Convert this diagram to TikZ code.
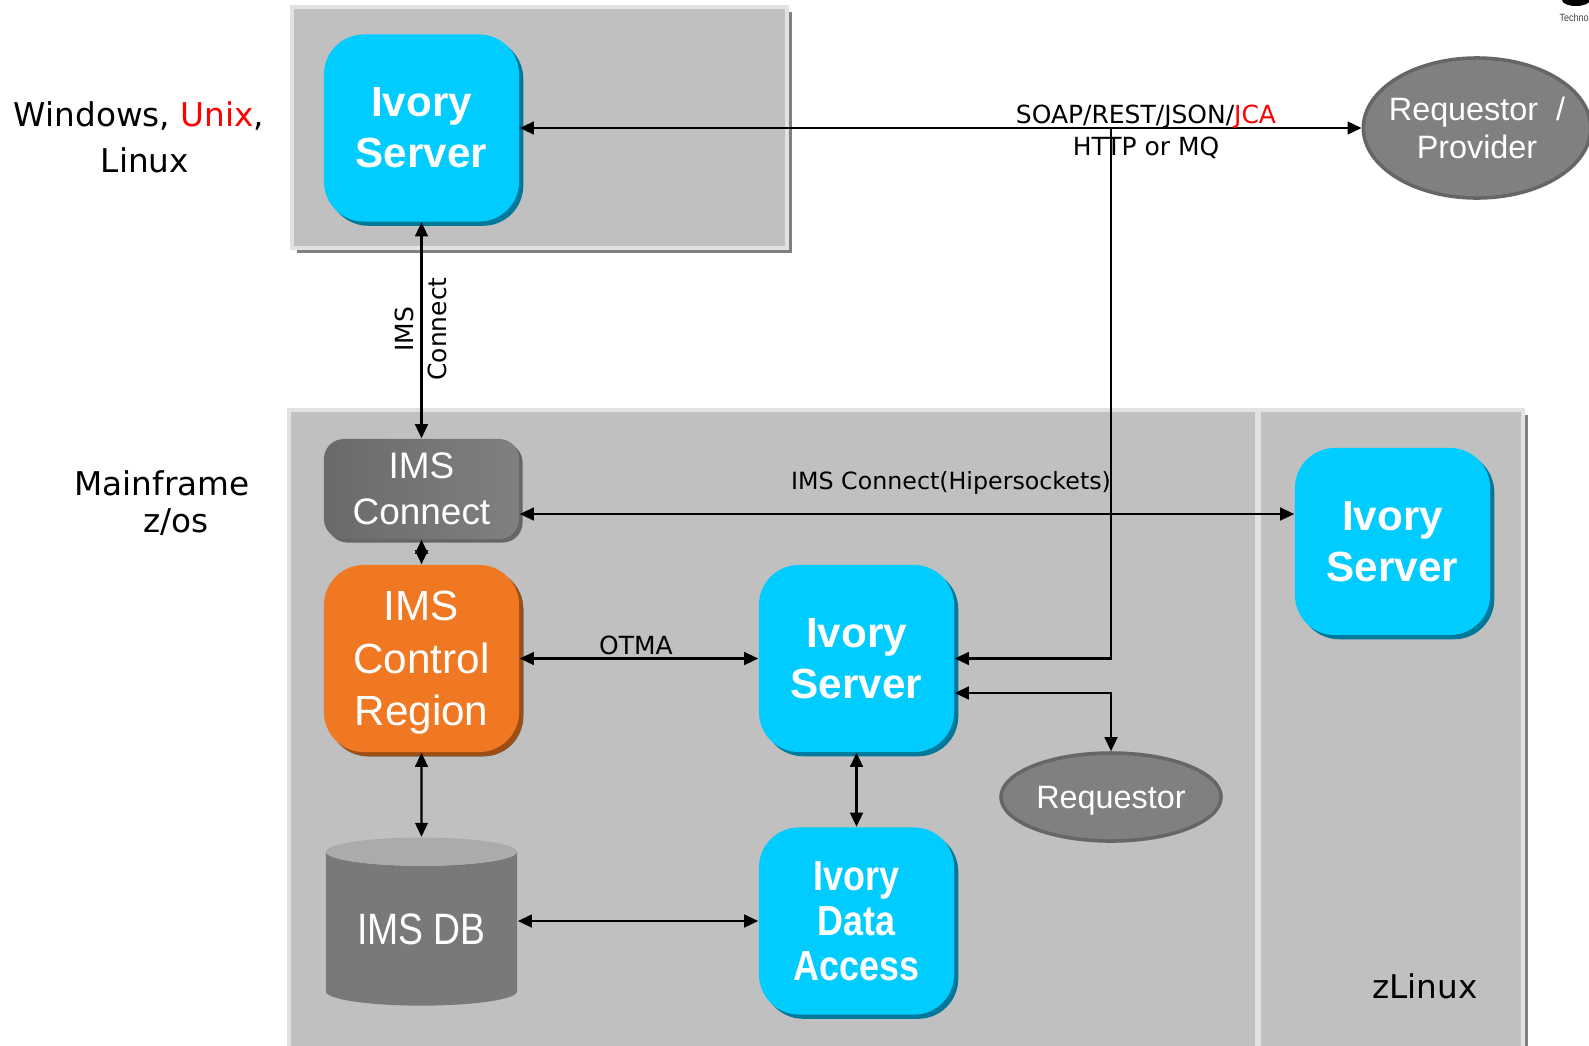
\documentclass[tikz,border=0pt]{standalone}
\usepackage{fontspec}
\setmainfont{Liberation Sans}
\newfontfamily\lblfont{DejaVu Sans}
\newfontfamily\narrowfont[FakeStretch=0.85]{Liberation Sans}
\usetikzlibrary{arrows.meta,shapes.geometric,shadows}
\definecolor{panelgray}{HTML}{C0C0C0}
\definecolor{paneldark}{HTML}{808080}
\definecolor{panellight}{HTML}{E2E2E2}
\definecolor{ivcyan}{HTML}{00CCFF}
\definecolor{ivshade}{HTML}{00789A}
\definecolor{imsorange}{HTML}{F07823}
\definecolor{orshade}{HTML}{9E4E12}
\definecolor{boxgray}{HTML}{6A6A6A}
\definecolor{boxgraylt}{HTML}{808080}
\definecolor{ellgray}{HTML}{808080}
\definecolor{ellrim}{HTML}{666666}
\tikzset{
  panel/.style={fill=panelgray, draw=panellight, line width=1pt,
    drop shadow={shadow xshift=1.5pt, shadow yshift=-1.5pt, fill=paneldark, opacity=1}},
  ivbox/.style={rounded corners=0.4cm, fill=ivcyan, text=white, align=center, inner sep=0pt,
    minimum width=1.95cm, minimum height=1.87cm, font=\bfseries\fontsize{12}{14.5}\selectfont,
    drop shadow={shadow xshift=1.2pt, shadow yshift=-1.2pt, fill=ivshade, opacity=1}},
  icrbox/.style={ivbox, fill=imsorange, font=\fontsize{12}{14.9}\selectfont, text depth=0pt,
    drop shadow={shadow xshift=1.2pt, shadow yshift=-1.2pt, fill=orshade, opacity=1}},
  conbox/.style={rounded corners=0.2cm, left color=boxgray, right color=boxgraylt, text=white,
    align=center, inner sep=0pt, minimum width=1.95cm, minimum height=1.0cm,
    font=\fontsize{10.5}{13}\selectfont,
    drop shadow={shadow xshift=1pt, shadow yshift=-1pt, fill=black!60, opacity=1}},
  dbcyl/.style={cylinder, shape border rotate=90, aspect=0.22, cylinder uses custom fill,
    cylinder body fill=boxgray!90!white, cylinder end fill=black!33, text=white, inner sep=0pt,
    minimum width=1.91cm, minimum height=1.68cm, font=\narrowfont\fontsize{12.5}{14}\selectfont},
  ell/.style={ellipse, fill=ellgray, draw=ellrim, line width=1pt, text=white, inner sep=0pt,
    align=center, font=\fontsize{9.2}{10.7}\selectfont},
  lbl/.style={font=\lblfont\fontsize{7.1}{9.4}\selectfont, inner sep=0pt},
  biglbl/.style={font=\lblfont\fontsize{9.3}{13}\selectfont, inner sep=0pt, align=center},
  arr/.style={line width=0.7pt, >={Triangle[length=4pt,width=3.6pt]}}
}
\begin{document}
\begin{tikzpicture}[x=0.01cm, y=-0.01cm]
\useasboundingbox (0,0) rectangle (1589,1045);
% panels
\path[panel] (292,7) rectangle (787,248);
\path[panel] (289,410) rectangle (1257,1060);
\path[panel] (1259,410) rectangle (1523,1060);
% platform texts
\node[biglbl] (oslbl) at (139,137) {Windows, \textcolor{red}{Unix},\\\hspace*{0.12cm}Linux};
\node[biglbl, font=\lblfont\fontsize{9.3}{10.4}\selectfont] (mflbl) at (162,503) {Mainframe\\\hspace*{0.28cm}z/os};
\node[biglbl] (zllbl) at (1425,986) {zLinux};
% components
\node[ivbox] (srvtop) at (421.5,128) {Ivory\\Server};
\node[conbox] (imscon) at (421.5,489) {IMS\\Connect};
\node[icrbox] (icr) at (421.5,658.5) {IMS\\Control\\Region};
\node[dbcyl] (imsdb) at (421.5,929) {IMS DB};
\node[ivbox] (srvmf) at (856.5,658.5) {Ivory\\Server};
\node[ivbox, font=\narrowfont\bfseries\fontsize{12}{12.8}\selectfont] (ida) at (856.5,921) {Ivory\\Data\\Access};
\node[ivbox] (srvzl) at (1392.5,541.5) {Ivory\\Server};
\node[ell, inner xsep=-2.2pt, minimum width=2.22cm, minimum height=1.40cm] (reqprov) at (1477,128) {Requestor~ /\\Provider};
\node[ell, inner xsep=-2pt, text depth=0pt, minimum width=2.20cm, minimum height=0.88cm] (req) at (1111,797) {Requestor};
% logo fragment
\fill (1576,0) ellipse (0.14cm and 0.06cm);
\node[anchor=west, inner sep=0pt, text=black!75, font=\narrowfont\fontsize{3}{3}\selectfont] (logo) at (1559,18) {Techno};
% connectors
\coordinate (tap) at (1111,128);
\draw[arr, <->] (srvtop.east) -- (reqprov.west);
\draw[arr, ->] (tap) |- (srvmf.east);
\draw[arr, <->] (srvmf.east |- 0,693) -| (req.north);
\draw[arr, <->] (srvtop.south) -- (imscon.north);
\draw[arr, <->] (imscon.south) -- (icr.north);
\draw[arr, <->] (imscon.east |- 0,514) -- (srvzl.west |- 0,514);
\draw[arr, <->] (icr.east) -- (srvmf.west);
\draw[arr, <->] (icr.south) -- (imsdb.north);
\draw[arr, <->] (srvmf.south) -- (ida.north);
\draw[arr, <->] (imsdb.east |- ida.west) -- (ida.west);
% connector labels
\node[lbl, anchor=base] (soaplbl) at (1146,123) {SOAP/REST/JSON/\textcolor{red}{JCA}};
\node[lbl, anchor=base] (httplbl) at (1146,155) {HTTP or MQ};
\node[lbl, anchor=base, font=\lblfont\fontsize{6.75}{9}\selectfont] (hiplbl) at (951,489) {IMS Connect(Hipersockets)};
\node[lbl, anchor=base] (otmalbl) at (636,654) {OTMA};
\node[lbl, rotate=90, align=center] (iclbl) at (421,329) {IMS\\Connect};
\end{tikzpicture}
\end{document}
